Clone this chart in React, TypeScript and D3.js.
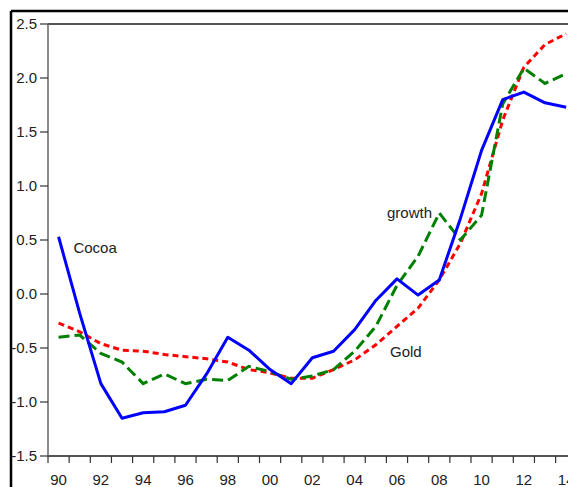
import React from "react";
import * as d3 from "d3";

const years = d3.range(1990, 2015);
const cocoa = [0.53, -0.18, -0.83, -1.15, -1.10, -1.09, -1.03, -0.74, -0.40, -0.52, -0.70, -0.83, -0.59, -0.53, -0.33, -0.06, 0.14, -0.01, 0.13, 0.70, 1.33, 1.80, 1.87, 1.77, 1.73];
const growth = [-0.40, -0.38, -0.55, -0.63, -0.83, -0.74, -0.83, -0.79, -0.80, -0.67, -0.72, -0.79, -0.76, -0.70, -0.53, -0.30, 0.08, 0.35, 0.75, 0.50, 0.73, 1.76, 2.09, 1.95, 2.04];
const gold = [-0.27, -0.35, -0.46, -0.52, -0.53, -0.56, -0.58, -0.60, -0.63, -0.70, -0.73, -0.78, -0.78, -0.70, -0.61, -0.47, -0.30, -0.13, 0.13, 0.47, 0.93, 1.61, 2.10, 2.31, 2.41];
const yTicks = [2.5, 2.0, 1.5, 1.0, 0.5, 0.0, -0.5, -1.0, -1.5];
const xLabelYears = d3.range(1990, 2015, 2);

const W = 568;
const H = 487;
const left = 48;
const yearW = 21.15;

export default function App() {
  const x = d3.scaleLinear().domain([1990, 2015]).range([left, left + 25 * yearW]);
  const y = d3.scaleLinear().domain([-1.5, 2.5]).range([456, 24]);
  const line = (vals: number[]) =>
    d3.line<number>().x((_, i) => x(years[i] + 0.5)).y((d) => y(d))(vals) as string;
  const font = "'Liberation Sans', Arial, sans-serif";
  const textColor = "#222";
  return (
    <svg width={W} height={H} style={{ position: "absolute", left: 0, top: 0, background: "#fff" }} fontFamily={font}>
      <defs>
        <clipPath id="c">
          <rect x={0} y={0} width={W} height={H} />
        </clipPath>
      </defs>
      <rect x={0} y={0} width={W} height={H} fill="#fff" />
      {/* outer frame */}
      <line x1={11} x2={W} y1={11} y2={11} stroke="#000" strokeWidth={2.5} />
      <line x1={11} x2={11} y1={11} y2={H} stroke="#000" strokeWidth={2.5} />
      {/* plot box */}
      <line x1={left} x2={W} y1={y(2.5)} y2={y(2.5)} stroke="#555" strokeWidth={2} />
      <line x1={left} x2={left} y1={y(2.5)} y2={y(-1.5)} stroke="#666" strokeWidth={1.5} />
      <line x1={left} x2={W} y1={y(-1.5)} y2={y(-1.5)} stroke="#555" strokeWidth={2} />
      {/* y ticks */}
      {yTicks.map((t) => (
        <g key={t}>
          <line x1={40} x2={left} y1={y(t)} y2={y(t)} stroke="#333" strokeWidth={1.2} />
          <text x={37} y={y(t) + 5} textAnchor="end" fontSize={15} fill={textColor}>
            {t.toFixed(1)}
          </text>
        </g>
      ))}
      {/* x ticks */}
      {d3.range(1990, 2016).map((yr) => (
        <line key={yr} x1={x(yr)} x2={x(yr)} y1={y(-1.5)} y2={y(-1.5) + 7} stroke="#333" strokeWidth={1.2} />
      ))}
      {xLabelYears.map((yr) => (
        <text key={yr} x={x(yr + 0.5)} y={485} textAnchor="middle" fontSize={15} fill={textColor}>
          {String(yr % 100).padStart(2, "0")}
        </text>
      ))}
      <g clipPath="url(#c)" fill="none" strokeWidth={3}>
        <path d={line(gold)} stroke="#ff0000" strokeDasharray="6,4" />
        <path d={line(growth)} stroke="#008000" strokeDasharray="11,5" />
        <path d={line(cocoa)} stroke="#0000ff" strokeLinejoin="round" />
      </g>
      <text x={x(1991.2)} y={y(0.38)} fontSize={15} fill={textColor}>Cocoa</text>
      <text x={x(2006.03)} y={y(0.70)} fontSize={15} fill={textColor}>growth</text>
      <text x={x(2006.17)} y={y(-0.58)} fontSize={15} fill={textColor}>Gold</text>
    </svg>
  );
}
